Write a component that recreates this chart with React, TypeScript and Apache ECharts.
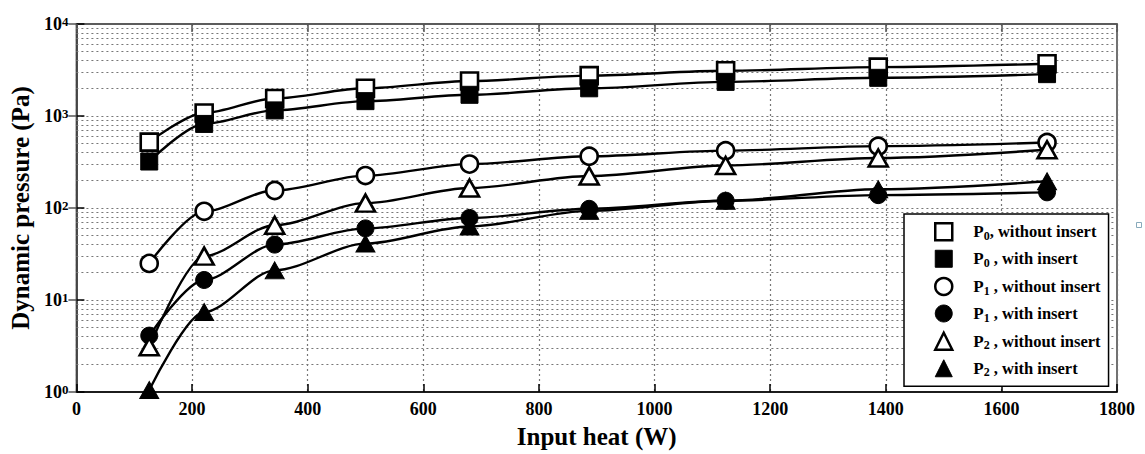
import React, { useEffect, useRef } from 'react';
import * as echarts from 'echarts';

const inputHeat = [126, 221, 343, 500, 680, 887, 1123, 1387, 1679];
const p0Without = [520, 1080, 1550, 2000, 2400, 2750, 3100, 3400, 3700];
const p0With = [320, 820, 1150, 1450, 1700, 2000, 2350, 2600, 2850];
const p1Without = [25, 92, 155, 225, 300, 365, 420, 470, 515];
const p1With = [4.1, 16.5, 40, 60, 78, 98, 120, 138, 148];
const p2Without = [3.1, 30, 65, 113, 165, 223, 290, 350, 430];
const p2With = [1.05, 7.4, 21, 41, 63, 93, 120, 160, 195];

const seriesNames = [
  'P0, without insert',
  'P0 , with insert',
  'P1 , without insert',
  'P1 , with insert',
  'P2 , without insert',
  'P2 , with insert',
];
const seriesSymbols = ['rect', 'rect', 'circle', 'circle', 'triangle', 'triangle'];
const seriesFilled = [false, true, false, true, false, true];
const seriesValues = [p0Without, p0With, p1Without, p1With, p2Without, p2With];

const minorGridValues = [
  2, 3, 4, 5, 6, 7, 8, 9,
  20, 30, 40, 50, 60, 70, 80, 90,
  200, 300, 400, 500, 600, 700, 800, 900,
  2000, 3000, 4000, 5000, 6000, 7000, 8000, 9000,
];

const FONT = '"Liberation Serif", "Times New Roman", serif';
const dotted = [2, 3];

export default function App() {
  const ref = useRef<HTMLDivElement>(null);
  useEffect(() => {
    const chart = echarts.init(ref.current!, undefined, { renderer: 'svg' });

    const series: any[] = seriesNames.map((name, i) => {
      const filled = seriesFilled[i];
      const sym = seriesSymbols[i];
      const s: any = {
        name,
        type: 'line',
        data: inputHeat.map((x, j) => [x, seriesValues[i][j]]),
        symbol: sym,
        symbolSize: sym === 'triangle' ? [19, 17] : 17,
        smooth: 0.3,
        smoothMonotone: 'x',
        showAllSymbol: true,
        lineStyle: { color: '#000', width: 2.4 },
        itemStyle: filled
          ? { color: '#000', borderColor: '#000', borderWidth: 1 }
          : { color: '#fff', borderColor: '#000', borderWidth: 2.6 },
        emphasis: { disabled: true },
        z: 3 + i,
      };
      if (i === 0) {
        s.markLine = {
          silent: true,
          symbol: 'none',
          label: { show: false },
          lineStyle: { type: dotted, color: '#777', width: 1.2 },
          z: 1,
          data: minorGridValues.map((v) => ({ yAxis: v })),
        };
      }
      return s;
    });

    const option: any = {
      animation: false,
      backgroundColor: '#fff',
      grid: {
        left: 74,
        right: 28,
        top: 24,
        bottom: 62,
        show: true,
        borderColor: '#444',
        borderWidth: 1.5,
      },
      xAxis: [
        {
          type: 'value',
          min: 0,
          max: 1800,
          interval: 200,
          position: 'bottom',
          name: 'Input heat (W)',
          nameLocation: 'middle',
          nameGap: 32,
          nameTextStyle: { fontFamily: FONT, fontWeight: 'bold', fontSize: 25, color: '#000' },
          axisLine: { show: true, lineStyle: { color: '#000', width: 1.5 } },
          axisTick: { show: true, inside: true, length: 8, lineStyle: { color: '#000', width: 1.5 } },
          axisLabel: {
            fontFamily: FONT,
            fontWeight: 'bold',
            fontSize: 18,
            color: '#000',
            margin: 8,
            formatter: (v: number) => String(v),
          },
          splitLine: { show: true, lineStyle: { type: dotted, color: '#777', width: 1.2 } },
        },
        {
          type: 'value',
          min: 0,
          max: 1800,
          interval: 200,
          position: 'top',
          axisLine: { show: true, lineStyle: { color: '#555', width: 1.5 } },
          axisTick: { show: true, inside: true, length: 8, lineStyle: { color: '#555', width: 1.5 } },
          axisLabel: { show: false },
          splitLine: { show: false },
        },
      ],
      yAxis: [
        {
          type: 'log',
          logBase: 10,
          min: 1,
          max: 10000,
          position: 'left',
          name: 'Dynamic pressure (Pa)',
          nameLocation: 'middle',
          nameGap: 36,
          nameTextStyle: { fontFamily: FONT, fontWeight: 'bold', fontSize: 25, color: '#000' },
          axisLine: { show: true, lineStyle: { color: '#000', width: 1.5 } },
          axisTick: { show: true, inside: true, length: 8, lineStyle: { color: '#000', width: 1.5 } },
          axisLabel: {
            margin: 8,
            formatter: (v: number) => `{b|10}{s|${Math.round(Math.log10(v))}}`,
            rich: {
              b: {
                fontFamily: FONT,
                fontWeight: 'bold',
                fontSize: 18,
                lineHeight: 18,
                color: '#000',
                padding: [9, 0, 9, 0],
                verticalAlign: 'middle',
              },
              s: {
                fontFamily: FONT,
                fontWeight: 'bold',
                fontSize: 13,
                lineHeight: 13,
                color: '#000',
                verticalAlign: 'top',
              },
            },
          },
          splitLine: { show: true, lineStyle: { type: dotted, color: '#777', width: 1.2 } },
        },
        {
          type: 'log',
          logBase: 10,
          min: 1,
          max: 10000,
          position: 'right',
          axisLine: { show: true, lineStyle: { color: '#555', width: 1.5 } },
          axisTick: { show: true, inside: true, length: 8, lineStyle: { color: '#555', width: 1.5 } },
          axisLabel: { show: false },
          splitLine: { show: false },
        },
      ],
      legend: {
        orient: 'vertical',
        left: 904,
        top: 214,
        backgroundColor: '#fff',
        borderColor: '#000',
        borderWidth: 1.5,
        borderRadius: 0,
        padding: [8, 8, 8, 30],
        itemWidth: 17,
        itemHeight: 17,
        itemGap: 8,
        selectedMode: false,
        data: seriesNames.map((name, i) => ({
          name,
          icon: seriesSymbols[i],
          itemStyle: seriesFilled[i]
            ? { color: '#000', borderColor: '#000', borderWidth: 1 }
            : { color: '#fff', borderColor: '#000', borderWidth: 2.5 },
        })),
        formatter: (name: string) => {
          const sub = name.charAt(1);
          const rest = name.slice(2);
          return `{p|P}{s|${sub}}{t|${rest}}`;
        },
        textStyle: {
          padding: [0, 0, 0, 16],
          rich: {
            p: { fontFamily: FONT, fontWeight: 'bold', fontSize: 17, lineHeight: 20, color: '#000', verticalAlign: 'middle' },
            s: { fontFamily: FONT, fontWeight: 'bold', fontSize: 12, lineHeight: 12, color: '#000', verticalAlign: 'bottom' },
            t: { fontFamily: FONT, fontWeight: 'bold', fontSize: 16.5, lineHeight: 20, color: '#000', verticalAlign: 'middle' },
          },
        },
      },
      graphic: [
        {
          type: 'rect',
          left: 1134,
          top: 220,
          shape: { width: 5, height: 5 },
          style: { fill: 'none', stroke: '#8ab', lineWidth: 1 },
        },
      ],
      series,
    };

    chart.setOption(option);
    return () => chart.dispose();
  }, []);

  return (
    <div
      ref={ref}
      style={{ position: 'fixed', left: 0, top: 0, width: 1145, height: 454, background: '#fff' }}
    />
  );
}
